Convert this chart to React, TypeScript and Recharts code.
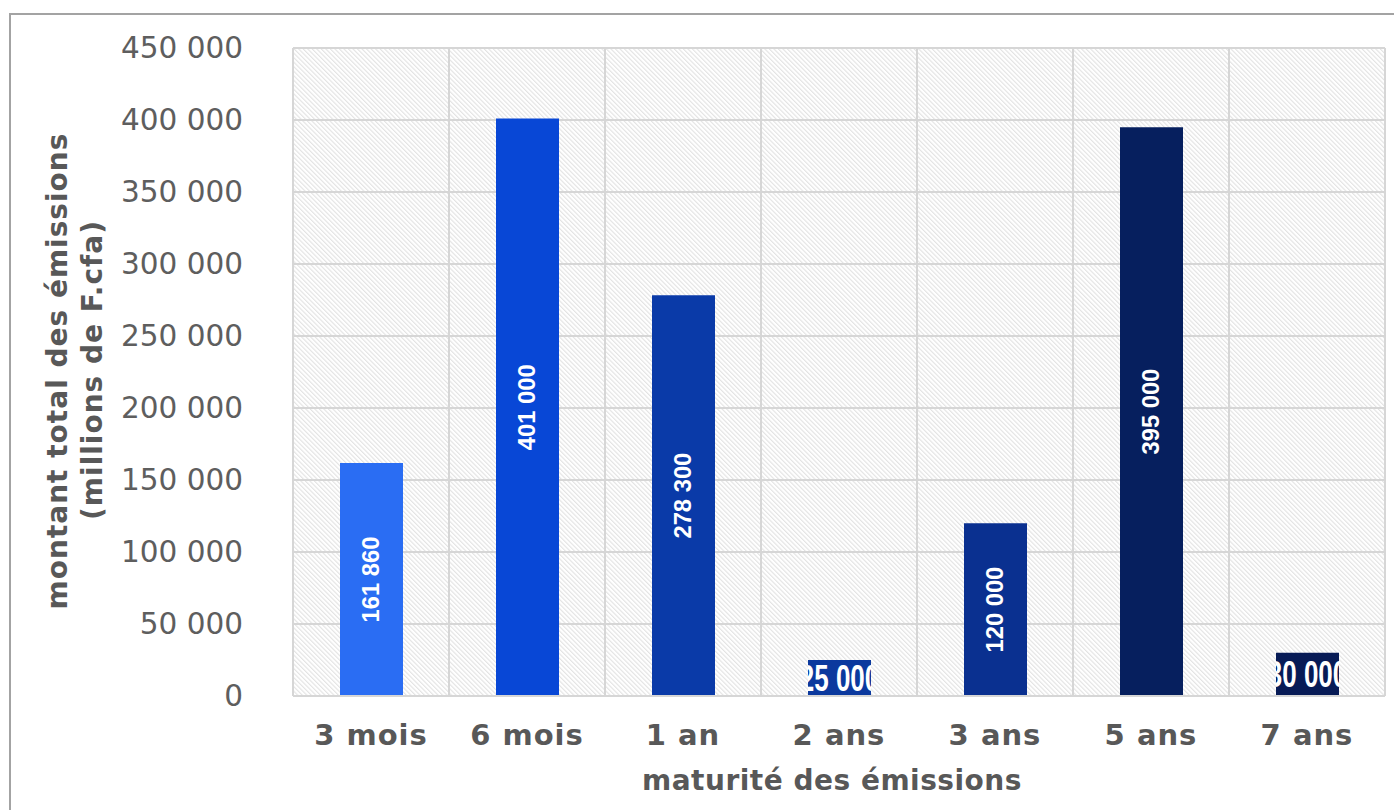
import React from 'react';
import { BarChart, Bar, XAxis, YAxis, CartesianGrid, Cell, LabelList } from 'recharts';

// Maturity buckets of the issues
const maturities: string[] = ['3 mois', '6 mois', '1 an', '2 ans', '3 ans', '5 ans', '7 ans'];
// Total amount issued per maturity (millions of F.cfa)
const amounts: number[] = [161860, 401000, 278300, 25000, 120000, 395000, 30000];
// Bar colours, lighter blue for short maturities to navy for long ones
const barColors: string[] = ['#2a6df3', '#0847d6', '#0a3aa8', '#0b399e', '#0a3090', '#061f5e', '#071b56'];
// Value axis ticks
const yTicks: number[] = [0, 50000, 100000, 150000, 200000, 250000, 300000, 350000, 400000, 450000];

const rows = maturities.map((m, i) => ({ maturite: m, montant: amounts[i] }));

const fmt = (v: number): string => String(Math.round(v)).replace(/\B(?=(\d{3})+(?!\d))/g, ' ');

const GREY_TEXT = '#585858';
const TITLE_FONT = '"DejaVu Sans", Verdana, sans-serif';

const BarValue = (props: any) => {
  const { x, y, width, height, value, index } = props;
  const cx = x + width / 2;
  const cy = y + height / 2;
  const clipId = `bar-clip-${index}`;
  const vertical = height > 100;
  return (
    <g>
      <defs>
        <clipPath id={clipId}>
          <rect x={x} y={y} width={width} height={height} />
        </clipPath>
      </defs>
      <g clipPath={`url(#${clipId})`}>
        <text
          transform={
            vertical
              ? `translate(${cx},${cy}) rotate(-90) scale(1.08,1.05)`
              : `translate(${cx},${cy}) scale(1.18,1.7)`
          }
          x={0}
          y={0}
          textAnchor="middle"
          dominantBaseline="central"
          fill="#ffffff"
          fontFamily='"Liberation Sans", Arial, sans-serif'
          fontWeight="bold"
          fontSize={22}
        >
          {fmt(Number(value))}
        </text>
      </g>
    </g>
  );
};

const YTitle = (props: any) => {
  const vb = props.viewBox || {};
  const cy = vb.y + vb.height / 2;
  const common = {
    textAnchor: 'middle' as const,
    dominantBaseline: 'central' as const,
    fill: GREY_TEXT,
    fontFamily: TITLE_FONT,
    fontWeight: 'bold' as const,
    fontSize: 28,
    letterSpacing: 1,
  };
  return (
    <g>
      <text transform={`translate(${vb.x + 57},${cy - 1}) rotate(-90)`} {...common}>
        montant total des émissions
      </text>
      <text transform={`translate(${vb.x + 92},${cy - 2}) rotate(-90)`} {...common}>
        (millions de F.cfa)
      </text>
    </g>
  );
};

const XTitle = (props: any) => {
  const vb = props.viewBox || {};
  return (
    <text
      x={vb.x + vb.width / 2 - 7}
      y={vb.y + 84}
      textAnchor="middle"
      dominantBaseline="central"
      fill={GREY_TEXT}
      fontFamily={TITLE_FONT}
      fontWeight="bold"
      fontSize={28}
      letterSpacing={0.5}
    >
      maturité des émissions
    </text>
  );
};

export default function App() {
  return (
    <div style={{ position: 'absolute', left: 0, top: 0, width: 1394, height: 810, background: '#ffffff', overflow: 'hidden' }}>
      <div
        style={{
          position: 'absolute',
          left: 9,
          top: 13,
          width: 1500,
          height: 900,
          borderTop: '2px solid #a3a3a3',
          borderLeft: '2px solid #a3a3a3',
        }}
      />
      <div style={{ position: 'absolute', left: 0, top: 0 }}>
        <BarChart width={1394} height={810} data={rows} margin={{ top: 48, right: 9, bottom: 0, left: 0 }}>
          <defs>
            <pattern id="hatch" patternUnits="userSpaceOnUse" width={3.2} height={3.2} patternTransform="rotate(-45)">
              <rect x={0} y={0} width={3.2} height={3.2} fill="#ffffff" />
              <line x1={0.6} y1={0} x2={0.6} y2={3.2} stroke="#e0e0e0" strokeWidth={1} />
            </pattern>
          </defs>
          <CartesianGrid
            fill="url(#hatch)"
            fillOpacity={1}
            stroke="#d6d6d6"
            strokeWidth={2}
            verticalCoordinatesGenerator={({ offset }: any) =>
              maturities.concat(['']).map((_, i) => offset.left + (i * offset.width) / maturities.length)
            }
          />
          <XAxis
            dataKey="maturite"
            height={114}
            tickLine={false}
            axisLine={{ stroke: '#d6d6d6', strokeWidth: 2 }}
            tickSize={0}
            tickMargin={28}
            interval={0}
            tick={{ fill: GREY_TEXT, fontFamily: TITLE_FONT, fontWeight: 'bold', fontSize: 29, letterSpacing: 1 }}
            label={<XTitle />}
          />
          <YAxis
            type="number"
            domain={[0, 450000]}
            ticks={yTicks}
            width={293}
            tickLine={false}
            axisLine={false}
            tickSize={0}
            tickMargin={50}
            tickFormatter={fmt}
            tick={{ fill: '#5e5e5e', fontFamily: TITLE_FONT, fontSize: 29.5 }}
            label={<YTitle />}
          />
          <Bar dataKey="montant" barSize={63} isAnimationActive={false}>
            {rows.map((_, i) => (
              <Cell key={i} fill={barColors[i]} />
            ))}
            <LabelList dataKey="montant" content={<BarValue />} />
          </Bar>
        </BarChart>
      </div>
    </div>
  );
}
